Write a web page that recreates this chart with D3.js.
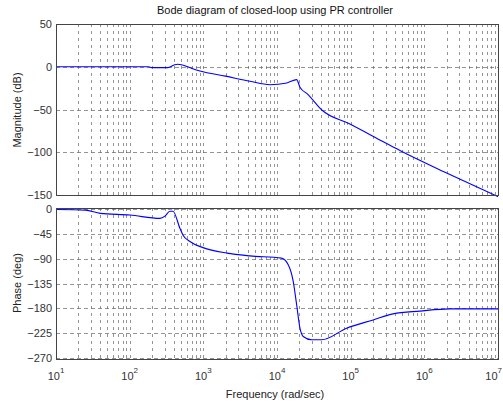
<!DOCTYPE html>
<html>
<head>
<meta charset="utf-8">
<script src="https://cdn.jsdelivr.net/npm/d3@7"></script>
<style>
body { margin:0; background:#fff; }
text { font-family: "Liberation Sans", Arial, sans-serif; }
</style>
</head>
<body>
<svg id="chart" width="503" height="405"></svg>
<script>
// magnitude response, rad/s -> dB
var magFreq = [10, 100, 180, 200, 330, 400, 450, 520, 700, 900, 2000, 4300, 8000, 13600, 18500, 20500, 26000, 40600, 97500, 273000, 466000, 2220000, 10000000];
var magDb   = [0, 0, 0, -1, -1, 2, 3, 2, -2, -5, -11, -17, -21, -19, -15, -24, -32, -50.6, -67, -87.4, -98, -126, -152];

// phase response, rad/s -> deg
var phFreq = [10, 25, 40, 101, 258, 301, 352, 387, 481, 528, 658, 988, 2090, 4290, 11500, 14200, 16600, 18500, 20500, 22700, 29500, 40300, 88000, 202000, 377000, 869000, 2220000, 10000000];
var phDeg  = [-1, -2, -8, -11, -17, -13, -4, -4, -35, -47, -59, -70, -80, -85, -89, -101, -131, -174, -216, -231, -237, -237, -216, -201, -190, -185, -181, -181];

var magTicks = [50, 0, -50, -100, -150];
var phTicks = [0, -45, -90, -135, -180, -225, -270];
var decades = [1, 2, 3, 4, 5, 6, 7];

var svg = d3.select("#chart");
var left = 56, right = 498;

var x = d3.scaleLog().domain([10, 1e7]).range([left, right]);
var yMag = d3.scaleLinear().domain([-150, 50]).range([195, 24]);
var yPh = d3.scaleLinear().domain([-270, 0]).range([358, 209]);

var gridColor = "#666";

function panel(y, ticks, yTop, yBot, freq, vals) {
  var g = svg.append("g");
  // minor vertical grid
  var minor = [];
  for (var d = 1; d < 7; d++) {
    for (var k = 2; k <= 9; k++) minor.push(k * Math.pow(10, d));
  }
  g.selectAll(".vmin").data(minor).enter().append("line")
    .attr("x1", function(v){ return Math.round(x(v)) + 0.5; })
    .attr("x2", function(v){ return Math.round(x(v)) + 0.5; })
    .attr("y1", yTop).attr("y2", yBot)
    .attr("stroke", gridColor).attr("stroke-width", 0.7)
    .attr("stroke-dasharray", "3,4");
  // major vertical grid
  g.selectAll(".vmaj").data(decades.slice(1, 6)).enter().append("line")
    .attr("x1", function(d){ return Math.round(x(Math.pow(10, d))) + 0.5; })
    .attr("x2", function(d){ return Math.round(x(Math.pow(10, d))) + 0.5; })
    .attr("y1", yTop).attr("y2", yBot)
    .attr("stroke", gridColor).attr("stroke-width", 0.7)
    .attr("stroke-dasharray", "3,4");
  // horizontal grid
  g.selectAll(".hg").data(ticks).enter().append("line")
    .attr("x1", left).attr("x2", right)
    .attr("y1", function(t){ return Math.round(y(t)) + 0.5; })
    .attr("y2", function(t){ return Math.round(y(t)) + 0.5; })
    .attr("stroke", gridColor).attr("stroke-width", 0.7)
    .attr("stroke-dasharray", "4,3");

  // curve
  var line = d3.line()
    .x(function(d){ return x(d[0]); })
    .y(function(d){ return y(d[1]); })
    .curve(d3.curveMonotoneX);
  g.append("path")
    .datum(d3.zip(freq, vals))
    .attr("d", line)
    .attr("fill", "none")
    .attr("stroke", "#0000ff")
    .attr("stroke-width", 1.1);

  // box
  g.append("rect")
    .attr("x", left + 0.5).attr("y", yTop + 0.5)
    .attr("width", right - left).attr("height", yBot - yTop)
    .attr("fill", "none").attr("stroke", "#444").attr("stroke-width", 1);

  // y tick labels
  var ax = g.append("g").attr("transform", "translate(" + left + ",0)")
    .call(d3.axisLeft(y).tickValues(ticks).tickSize(0).tickPadding(4));
  ax.select(".domain").remove();
  ax.selectAll("text")
    .attr("font-size", 11).attr("fill", "#333");
  return g;
}

panel(yMag, magTicks, 24, 195, magFreq, magDb);
panel(yPh, phTicks, 208, 359, phFreq, phDeg);

// x tick labels 10^n
var xl = svg.append("g");
decades.forEach(function(d, i) {
  var px = x(Math.pow(10, d));
  var last = i === decades.length - 1;
  var t = xl.append("text")
    .attr("x", last ? 502 : px).attr("y", 380)
    .attr("text-anchor", last ? "end" : "middle")
    .attr("font-size", 11).attr("fill", "#333");
  t.append("tspan").text("10");
  t.append("tspan").attr("dy", -7).attr("font-size", 8).text(d);
});

svg.append("text")
  .attr("x", 275).attr("y", 398).attr("text-anchor", "middle")
  .attr("font-size", 11).attr("fill", "#222")
  .text("Frequency  (rad/sec)");

svg.append("text")
  .attr("x", 275).attr("y", 14).attr("text-anchor", "middle")
  .attr("font-size", 11).attr("fill", "#111")
  .text("Bode diagram of closed-loop using PR controller");

svg.append("text")
  .attr("transform", "translate(21,110) rotate(-90)")
  .attr("text-anchor", "middle")
  .attr("font-size", 11).attr("fill", "#222")
  .text("Magnitude (dB)");

svg.append("text")
  .attr("transform", "translate(21,283) rotate(-90)")
  .attr("text-anchor", "middle")
  .attr("font-size", 11).attr("fill", "#222")
  .text("Phase (deg)");
</script>
</body>
</html>
